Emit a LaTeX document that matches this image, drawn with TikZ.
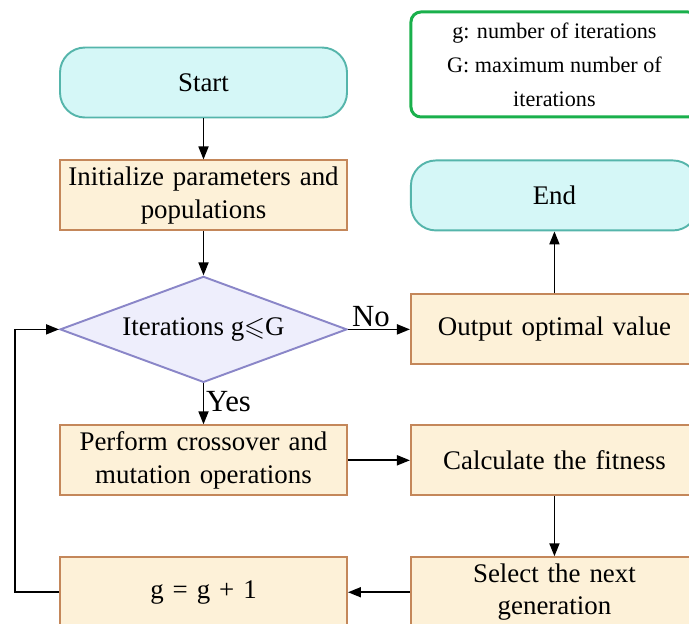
\documentclass[tikz,border=0pt]{standalone}
\usepackage{amsmath}
\usepackage{amssymb}
\usepackage{xcolor}
\usepackage{fontspec}
\setmainfont{Liberation Serif}
\usepackage{tikz}
\usetikzlibrary{shapes.geometric, arrows.meta, positioning}

\definecolor{termfill}{HTML}{D5F7F7}
\definecolor{termdraw}{HTML}{55B5AB}
\definecolor{procfill}{HTML}{FDF1D8}
\definecolor{procdraw}{HTML}{C4875A}
\definecolor{decfill}{HTML}{EEEEFC}
\definecolor{decdraw}{HTML}{8A86C8}
\definecolor{notedraw}{HTML}{1AB04C}

\begin{document}
\begin{tikzpicture}[font=\fontsize{15.3}{18.5}\selectfont]
        \tikzstyle{startstop} = [rectangle, rounded corners=0.5cm, minimum width=5.74cm, minimum height=1.4cm, text centered, draw=termdraw, line width=1.1pt, fill=termfill]
        \tikzstyle{process} = [rectangle, minimum width=5.74cm, minimum height=1.4cm, inner xsep=0.1cm, text width=5.5cm, align=center, draw=procdraw, line width=1.1pt, fill=procfill]
        \tikzstyle{decision} = [diamond, aspect=2.7, inner sep=1pt, minimum width=5.74cm, minimum height=2.12cm, text centered, draw=decdraw, line width=1.1pt, fill=decfill]
        \tikzstyle{note} = [rectangle, rounded corners=0.2cm, minimum width=5.74cm, minimum height=2.1cm, align=center, draw=notedraw, line width=1.7pt, fill=white, font=\fontsize{12.6}{19.3}\selectfont]
        \tikzstyle{arrow} = [line width=1pt, -{Triangle[length=0.26cm, width=0.2cm]}]
        \tikzstyle{answer} = [font=\fontsize{17.5}{20}\selectfont, inner sep=1pt]

        \useasboundingbox (0,0) rectangle (13.78,-12.46);

        \node (start) [startstop] at (4.07,-1.65) {Start};
        \node (init) [process, below=0.82cm of start] {Initialize parameters and\\populations};
        \node (dec) [decision, below=0.88cm of init] {Iterations g$\leqslant$G};
        \node (cross) [process, below=0.82cm of dec] {Perform crossover and\\mutation operations};
        \node (gplus) [process, below=1.2cm of cross] {g = g + 1};
        \node (stop) [startstop, right=1.24cm of init] {End};
        \node (legend) [note, above=0.82cm of stop] {g: number of iterations\\G: maximum number of\\iterations};
        \node (out) [process, right=1.24cm of dec] {Output optimal value};
        \node (fit) [process, right=1.24cm of cross] {Calculate the fitness};
        \node (select) [process, right=1.24cm of gplus] {Select the next\\generation};

        \draw [arrow] (start) -- (init);
        \draw [arrow] (init) -- (dec);
        \draw [arrow] (dec) -- node[answer, right, pos=0.45] {Yes} (cross);
        \draw [arrow] (dec) -- node[answer, above, pos=0.37] {No} (out);
        \draw [arrow] (out) -- (stop);
        \draw [arrow] (cross) -- (fit);
        \draw [arrow] (fit) -- (select);
        \draw [arrow] (select) -- (gplus);
        \draw [arrow] (gplus.west) -- ++(-0.88,0) |- (dec.west);
        \end{tikzpicture}
\end{document}
